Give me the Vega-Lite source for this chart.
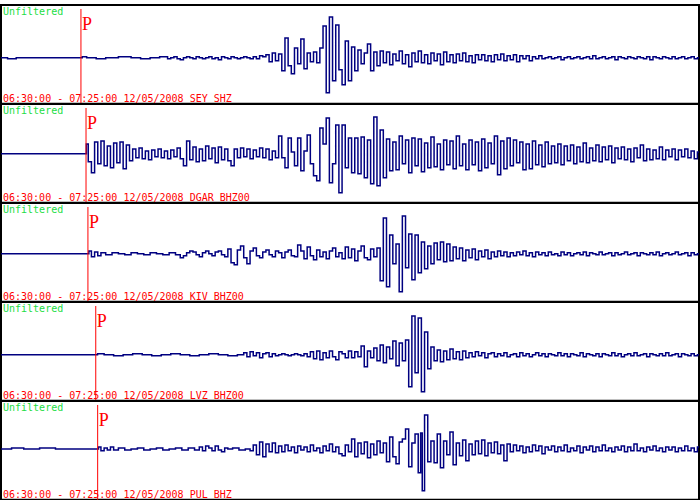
{
  "$schema": "https://vega.github.io/schema/vega-lite/v6.json",
  "padding": {"left": -3, "top": 4, "right": 1, "bottom": 1},
  "background": "white",
  "spacing": 0,
  "bounds": "flush",
  "config": {"view": {"stroke": "black", "strokeWidth": 2}},
  "datasets": {
    "SEY": [{"t":0,"a":0},{"t":62,"a":-1},{"t":82,"a":0},{"t":378,"a":0},{"t":390,"a":1},{"t":420,"a":0},{"t":480,"a":-1},{"t":510,"a":0},{"t":600,"a":1},{"t":630,"a":0},{"t":690,"a":-1},{"t":720,"a":0},
      {"t":780,"a":1},{"t":795,"a":-1},{"t":810,"a":0},{"t":825,"a":1},{"t":840,"a":-1},{"t":855,"a":-2},{"t":870,"a":0},{"t":885,"a":1},{"t":900,"a":0},{"t":915,"a":-1},{"t":930,"a":1},{"t":945,"a":0},{"t":960,"a":-1},{"t":975,"a":0},{"t":990,"a":1},{"t":1005,"a":-1},{"t":1020,"a":0},{"t":1035,"a":-2},{"t":1050,"a":1},{"t":1065,"a":0},{"t":1080,"a":-1},{"t":1095,"a":1},{"t":1110,"a":0},{"t":1125,"a":-1},{"t":1140,"a":0},{"t":1155,"a":1},{"t":1170,"a":0},{"t":1185,"a":-1},{"t":1200,"a":1},
      {"t":1215,"a":-1},{"t":1230,"a":2},{"t":1245,"a":1},{"t":1260,"a":3},{"t":1275,"a":-4},{"t":1290,"a":5},{"t":1305,"a":-3},{"t":1320,"a":4},
      {"t":1335,"a":-13},{"t":1350,"a":20},{"t":1365,"a":-8},{"t":1380,"a":-16},{"t":1395,"a":10},{"t":1410,"a":-6},{"t":1425,"a":19},{"t":1440,"a":-11},{"t":1455,"a":5},
      {"t":1470,"a":-4},{"t":1485,"a":6},{"t":1500,"a":-5},{"t":1515,"a":10},
      {"t":1530,"a":32},{"t":1545,"a":-35},{"t":1560,"a":41},{"t":1575,"a":-23},{"t":1590,"a":33},{"t":1605,"a":-12},{"t":1620,"a":-27},{"t":1635,"a":17},{"t":1650,"a":-23},{"t":1665,"a":11},{"t":1680,"a":-13},{"t":1695,"a":8},{"t":1710,"a":-6},{"t":1725,"a":5},{"t":1740,"a":14},{"t":1755,"a":-13},{"t":1770,"a":6},{"t":1785,"a":-8},{"t":1800,"a":7},
      {"t":1815,"a":-5},{"t":1830,"a":6},{"t":1845,"a":-7},{"t":1860,"a":4},{"t":1875,"a":-3},{"t":1890,"a":7},{"t":1905,"a":-6},{"t":1920,"a":3},{"t":1935,"a":-9},{"t":1950,"a":5},{"t":1965,"a":-4},{"t":1980,"a":7},{"t":1995,"a":-5},{"t":2010,"a":3},{"t":2025,"a":-6},{"t":2040,"a":5},{"t":2055,"a":-3},{"t":2070,"a":4},{"t":2085,"a":-7},{"t":2100,"a":6},{"t":2115,"a":-4},{"t":2130,"a":3},{"t":2145,"a":-5},{"t":2160,"a":4},{"t":2175,"a":-3},{"t":2190,"a":5},{"t":2205,"a":-4},{"t":2220,"a":2},{"t":2235,"a":-5},{"t":2250,"a":3},{"t":2265,"a":-2},
      {"t":2280,"a":3},{"t":2295,"a":-3},{"t":2310,"a":2},{"t":2325,"a":-4},{"t":2340,"a":3},{"t":2355,"a":-2},{"t":2370,"a":4},{"t":2385,"a":-3},{"t":2400,"a":2},{"t":2415,"a":-2},{"t":2430,"a":3},{"t":2445,"a":-4},{"t":2460,"a":2},{"t":2475,"a":-1},{"t":2490,"a":2},{"t":2505,"a":-3},{"t":2520,"a":1},{"t":2535,"a":-1},{"t":2550,"a":2},
      {"t":2565,"a":-1},{"t":2580,"a":0},{"t":2595,"a":1},{"t":2610,"a":-1},{"t":2625,"a":0},{"t":2640,"a":1},{"t":2655,"a":-2},{"t":2670,"a":0},{"t":2685,"a":1},{"t":2700,"a":-1},{"t":2715,"a":0},{"t":2730,"a":1},{"t":2745,"a":-1},{"t":2760,"a":0},{"t":2775,"a":1},{"t":2790,"a":-1},{"t":2805,"a":2},{"t":2820,"a":-1},{"t":2835,"a":0},{"t":2850,"a":1},{"t":2865,"a":-1},{"t":2880,"a":0},{"t":2895,"a":1},{"t":2910,"a":-2},{"t":2925,"a":1},{"t":2940,"a":0},{"t":2955,"a":-1},{"t":2970,"a":1},{"t":2985,"a":0},{"t":3000,"a":-1},{"t":3015,"a":1},{"t":3030,"a":0},{"t":3045,"a":-1},{"t":3060,"a":1},{"t":3075,"a":-2},{"t":3090,"a":1},{"t":3105,"a":0},{"t":3120,"a":-1},{"t":3135,"a":1},{"t":3150,"a":0},{"t":3165,"a":-1},{"t":3180,"a":1},{"t":3195,"a":-1},{"t":3210,"a":0},{"t":3225,"a":1},{"t":3240,"a":-1},{"t":3255,"a":0},{"t":3270,"a":1},{"t":3285,"a":-1},{"t":3300,"a":0}],
    "DGAR": [{"t":0,"a":0},{"t":402,"a":0},
      {"t":405,"a":10},{"t":420,"a":-8},{"t":435,"a":-19},{"t":450,"a":12},{"t":465,"a":-10},{"t":480,"a":13},{"t":495,"a":-12},{"t":510,"a":8},{"t":525,"a":-14},{"t":540,"a":11},{"t":555,"a":-9},{"t":570,"a":12},{"t":585,"a":-15},{"t":600,"a":9},{"t":615,"a":-7},
      {"t":630,"a":5},{"t":645,"a":-4},{"t":660,"a":6},{"t":675,"a":-5},{"t":690,"a":3},{"t":705,"a":-6},{"t":720,"a":4},{"t":735,"a":-3},{"t":750,"a":5},{"t":765,"a":-4},{"t":780,"a":3},{"t":795,"a":-5},{"t":810,"a":4},{"t":825,"a":-3},
      {"t":840,"a":6},{"t":855,"a":-5},{"t":870,"a":-12},{"t":885,"a":13},{"t":900,"a":-6},{"t":915,"a":7},{"t":930,"a":-8},{"t":945,"a":5},{"t":960,"a":-7},{"t":975,"a":8},{"t":990,"a":-5},{"t":1005,"a":6},{"t":1020,"a":-9},{"t":1035,"a":7},{"t":1050,"a":-6},{"t":1065,"a":5},{"t":1080,"a":-7},{"t":1095,"a":-12},
      {"t":1110,"a":5},{"t":1125,"a":-4},{"t":1140,"a":6},{"t":1155,"a":-3},{"t":1170,"a":5},{"t":1185,"a":-5},{"t":1200,"a":4},{"t":1215,"a":-3},{"t":1230,"a":6},{"t":1245,"a":-4},{"t":1260,"a":5},{"t":1275,"a":-6},{"t":1290,"a":3},{"t":1305,"a":-4},
      {"t":1320,"a":18},{"t":1335,"a":-4},{"t":1350,"a":-14},{"t":1365,"a":16},{"t":1380,"a":2},{"t":1395,"a":-12},{"t":1410,"a":16},{"t":1425,"a":-17},{"t":1440,"a":3},{"t":1455,"a":19},{"t":1470,"a":-10},{"t":1485,"a":-22},{"t":1500,"a":-27},{"t":1515,"a":26},{"t":1530,"a":10},{"t":1545,"a":36},{"t":1560,"a":-29},{"t":1575,"a":-10},{"t":1590,"a":29},{"t":1605,"a":-39},{"t":1620,"a":29},{"t":1635,"a":-14},{"t":1650,"a":16},
      {"t":1665,"a":-19},{"t":1680,"a":16},{"t":1695,"a":-20},{"t":1710,"a":17},{"t":1725,"a":-24},{"t":1740,"a":14},{"t":1755,"a":-30},{"t":1770,"a":37},{"t":1785,"a":-32},{"t":1800,"a":24},{"t":1815,"a":-24},
      {"t":1830,"a":15},{"t":1845,"a":-17},{"t":1860,"a":12},{"t":1875,"a":-16},{"t":1890,"a":18},{"t":1905,"a":-10},{"t":1920,"a":14},{"t":1935,"a":-19},{"t":1950,"a":16},{"t":1965,"a":-12},{"t":1980,"a":15},{"t":1995,"a":-18},{"t":2010,"a":11},{"t":2025,"a":-14},{"t":2040,"a":17},{"t":2055,"a":-13},{"t":2070,"a":10},{"t":2085,"a":-16},{"t":2100,"a":14},{"t":2115,"a":-11},{"t":2130,"a":13},
      {"t":2145,"a":-15},{"t":2160,"a":18},{"t":2175,"a":-12},{"t":2190,"a":10},{"t":2205,"a":-16},{"t":2220,"a":14},{"t":2235,"a":-11},{"t":2250,"a":12},{"t":2265,"a":-17},{"t":2280,"a":15},{"t":2295,"a":-14},{"t":2310,"a":11},{"t":2325,"a":-10},{"t":2340,"a":18},{"t":2355,"a":-21},{"t":2370,"a":13},{"t":2385,"a":-15},{"t":2400,"a":16},{"t":2415,"a":-12},{"t":2430,"a":14},{"t":2445,"a":-9},{"t":2460,"a":12},{"t":2475,"a":-16},{"t":2490,"a":10},{"t":2505,"a":-15},{"t":2520,"a":13},{"t":2535,"a":-11},{"t":2550,"a":9},{"t":2565,"a":-13},{"t":2580,"a":12},{"t":2595,"a":-10},{"t":2610,"a":8},
      {"t":2625,"a":-9},{"t":2640,"a":10},{"t":2655,"a":-11},{"t":2670,"a":8},{"t":2685,"a":-7},{"t":2700,"a":9},{"t":2715,"a":-10},{"t":2730,"a":7},{"t":2745,"a":-8},{"t":2760,"a":11},{"t":2775,"a":-9},{"t":2790,"a":6},{"t":2805,"a":-7},{"t":2820,"a":9},{"t":2835,"a":-8},{"t":2850,"a":7},{"t":2865,"a":-6},{"t":2880,"a":8},{"t":2895,"a":-9},{"t":2910,"a":6},{"t":2925,"a":-5},
      {"t":2940,"a":7},{"t":2955,"a":-6},{"t":2970,"a":5},{"t":2985,"a":-8},{"t":3000,"a":6},{"t":3015,"a":-4},{"t":3030,"a":9},{"t":3045,"a":-7},{"t":3060,"a":5},{"t":3075,"a":-6},{"t":3090,"a":4},{"t":3105,"a":-5},{"t":3120,"a":7},{"t":3135,"a":-6},{"t":3150,"a":4},{"t":3165,"a":-3},{"t":3180,"a":5},{"t":3195,"a":-6},{"t":3210,"a":4},{"t":3225,"a":-3},{"t":3240,"a":5},{"t":3255,"a":-4},{"t":3270,"a":3},{"t":3285,"a":-5},{"t":3300,"a":2}],
    "KIV": [{"t":0,"a":0},{"t":411,"a":0},{"t":420,"a":3},{"t":435,"a":-3},{"t":450,"a":2},{"t":465,"a":-2},{"t":480,"a":1},{"t":510,"a":-1},{"t":540,"a":1},{"t":570,"a":0},{"t":600,"a":-1},{"t":630,"a":1},{"t":660,"a":0},{"t":690,"a":-1},{"t":720,"a":1},{"t":750,"a":0},{"t":780,"a":-1},{"t":810,"a":1},{"t":840,"a":-1},
      {"t":855,"a":-4},{"t":870,"a":-2},{"t":885,"a":1},{"t":900,"a":3},{"t":915,"a":2},{"t":930,"a":-1},{"t":945,"a":-3},{"t":960,"a":1},{"t":975,"a":3},{"t":990,"a":0},{"t":1005,"a":-2},{"t":1020,"a":2},{"t":1035,"a":3},{"t":1050,"a":-1},{"t":1065,"a":-3},
      {"t":1080,"a":5},{"t":1095,"a":-9},{"t":1110,"a":-11},{"t":1125,"a":4},{"t":1140,"a":8},{"t":1155,"a":-4},{"t":1170,"a":-10},{"t":1185,"a":3},{"t":1200,"a":6},
      {"t":1215,"a":-2},{"t":1230,"a":-4},{"t":1245,"a":2},{"t":1260,"a":4},{"t":1275,"a":-1},{"t":1290,"a":-3},{"t":1305,"a":3},{"t":1320,"a":1},{"t":1335,"a":-4},{"t":1350,"a":2},{"t":1365,"a":4},{"t":1380,"a":-2},{"t":1395,"a":-3},
      {"t":1410,"a":9},{"t":1425,"a":3},{"t":1440,"a":-5},{"t":1455,"a":7},{"t":1470,"a":-2},{"t":1485,"a":-6},{"t":1500,"a":4},{"t":1515,"a":-3},{"t":1530,"a":2},{"t":1545,"a":-5},{"t":1560,"a":3},{"t":1575,"a":6},{"t":1590,"a":-3},{"t":1605,"a":1},{"t":1620,"a":-5},{"t":1635,"a":7},{"t":1650,"a":-4},
      {"t":1665,"a":5},{"t":1680,"a":-7},{"t":1695,"a":3},{"t":1710,"a":8},{"t":1725,"a":-4},{"t":1740,"a":-6},{"t":1755,"a":5},{"t":1770,"a":-3},
      {"t":1785,"a":6},{"t":1800,"a":-27},{"t":1815,"a":36},{"t":1830,"a":-33},{"t":1845,"a":19},{"t":1860,"a":-10},{"t":1875,"a":10},{"t":1890,"a":-38},{"t":1905,"a":38},{"t":1920,"a":-14},{"t":1935,"a":20},{"t":1950,"a":-26},{"t":1965,"a":19},{"t":1980,"a":-19},
      {"t":1995,"a":12},{"t":2010,"a":-15},{"t":2025,"a":8},{"t":2040,"a":-10},{"t":2055,"a":11},{"t":2070,"a":-6},{"t":2085,"a":12},{"t":2100,"a":-8},{"t":2115,"a":10},{"t":2130,"a":-7},
      {"t":2145,"a":7},{"t":2160,"a":-5},{"t":2175,"a":6},{"t":2190,"a":-7},{"t":2205,"a":4},{"t":2220,"a":-4},{"t":2235,"a":5},{"t":2250,"a":-6},{"t":2265,"a":3},{"t":2280,"a":-3},{"t":2295,"a":4},{"t":2310,"a":-5},{"t":2325,"a":2},{"t":2340,"a":-3},{"t":2355,"a":3},{"t":2370,"a":-2},
      {"t":2385,"a":2},{"t":2400,"a":-3},{"t":2415,"a":1},{"t":2430,"a":-2},{"t":2445,"a":2},{"t":2460,"a":-1},{"t":2475,"a":3},{"t":2490,"a":-2},{"t":2505,"a":1},{"t":2520,"a":-3},{"t":2535,"a":2},{"t":2550,"a":-1},{"t":2565,"a":1},{"t":2580,"a":-2},{"t":2595,"a":2},{"t":2610,"a":-1},{"t":2625,"a":0},{"t":2640,"a":-2},{"t":2655,"a":2},{"t":2670,"a":-1},{"t":2685,"a":1},{"t":2700,"a":-2},{"t":2715,"a":0},{"t":2730,"a":1},{"t":2745,"a":-1},{"t":2760,"a":2},{"t":2775,"a":-2},{"t":2790,"a":1},{"t":2805,"a":0},{"t":2820,"a":-1},{"t":2835,"a":2},{"t":2850,"a":-1},{"t":2865,"a":0},{"t":2880,"a":1},{"t":2895,"a":-2},{"t":2910,"a":1},{"t":2925,"a":-1},{"t":2940,"a":0},{"t":2955,"a":2},{"t":2970,"a":-1},{"t":2985,"a":0},{"t":3000,"a":1},{"t":3015,"a":-2},{"t":3030,"a":1},{"t":3045,"a":0},{"t":3060,"a":-1},{"t":3075,"a":1},{"t":3090,"a":-1},{"t":3105,"a":2},{"t":3120,"a":-2},{"t":3135,"a":0},{"t":3150,"a":1},{"t":3165,"a":-1},{"t":3180,"a":0},{"t":3195,"a":2},{"t":3210,"a":-1},{"t":3225,"a":0},{"t":3240,"a":1},{"t":3255,"a":-2},{"t":3270,"a":1},{"t":3285,"a":-1},{"t":3300,"a":0}],
    "LVZ": [{"t":0,"a":0},{"t":448,"a":0},{"t":465,"a":1},{"t":510,"a":0},{"t":555,"a":-1},{"t":600,"a":0},{"t":645,"a":1},{"t":690,"a":0},{"t":735,"a":-1},{"t":780,"a":0},{"t":825,"a":1},{"t":870,"a":0},{"t":915,"a":-1},{"t":960,"a":0},{"t":1005,"a":1},{"t":1050,"a":0},{"t":1095,"a":-1},{"t":1140,"a":0},
      {"t":1155,"a":2},{"t":1170,"a":-2},{"t":1185,"a":3},{"t":1200,"a":-1},{"t":1215,"a":2},{"t":1230,"a":-3},{"t":1245,"a":1},{"t":1260,"a":2},{"t":1275,"a":-2},{"t":1290,"a":1},{"t":1305,"a":-1},{"t":1320,"a":0},
      {"t":1335,"a":1},{"t":1350,"a":0},{"t":1365,"a":-1},{"t":1380,"a":0},{"t":1395,"a":1},{"t":1410,"a":0},{"t":1425,"a":-1},{"t":1440,"a":1},
      {"t":1455,"a":-2},{"t":1470,"a":3},{"t":1485,"a":-4},{"t":1500,"a":4},{"t":1515,"a":-5},{"t":1530,"a":2},{"t":1545,"a":-3},{"t":1560,"a":4},{"t":1575,"a":-2},{"t":1590,"a":-5},{"t":1605,"a":3},{"t":1620,"a":1},{"t":1635,"a":-3},{"t":1650,"a":4},
      {"t":1665,"a":-3},{"t":1680,"a":3},{"t":1695,"a":-2},{"t":1710,"a":9},{"t":1725,"a":-12},{"t":1740,"a":4},{"t":1755,"a":-3},
      {"t":1770,"a":7},{"t":1785,"a":-6},{"t":1800,"a":10},{"t":1815,"a":-8},{"t":1830,"a":8},{"t":1845,"a":-4},{"t":1860,"a":14},{"t":1875,"a":-11},{"t":1890,"a":12},{"t":1905,"a":-6},
      {"t":1920,"a":15},{"t":1935,"a":-32},{"t":1950,"a":39},{"t":1965,"a":-18},{"t":1980,"a":37},{"t":1995,"a":-37},{"t":2010,"a":23},{"t":2025,"a":-14},
      {"t":2040,"a":8},{"t":2055,"a":-6},{"t":2070,"a":5},{"t":2085,"a":-7},{"t":2100,"a":4},{"t":2115,"a":-5},{"t":2130,"a":6},{"t":2145,"a":-4},{"t":2160,"a":3},{"t":2175,"a":-5},{"t":2190,"a":4},{"t":2205,"a":-3},{"t":2220,"a":2},
      {"t":2235,"a":-2},{"t":2250,"a":3},{"t":2265,"a":-1},{"t":2280,"a":2},{"t":2295,"a":-3},{"t":2310,"a":1},{"t":2325,"a":2},{"t":2340,"a":-2},{"t":2355,"a":1},{"t":2370,"a":-1},{"t":2385,"a":2},{"t":2400,"a":-2},{"t":2415,"a":0},{"t":2430,"a":1},{"t":2445,"a":-2},{"t":2460,"a":2},{"t":2475,"a":-1},{"t":2490,"a":1},{"t":2505,"a":-2},{"t":2520,"a":0},{"t":2535,"a":2},{"t":2550,"a":-1},{"t":2565,"a":1},{"t":2580,"a":-2},{"t":2595,"a":1},{"t":2610,"a":0},{"t":2625,"a":-1},{"t":2640,"a":2},{"t":2655,"a":-1},{"t":2670,"a":1},{"t":2685,"a":-2},{"t":2700,"a":1},{"t":2715,"a":0},{"t":2730,"a":-1},{"t":2745,"a":2},{"t":2760,"a":-2},{"t":2775,"a":1},{"t":2790,"a":0},{"t":2805,"a":-1},{"t":2820,"a":1},{"t":2835,"a":-2},{"t":2850,"a":1},{"t":2865,"a":0},{"t":2880,"a":-1},{"t":2895,"a":2},{"t":2910,"a":-1},{"t":2925,"a":1},{"t":2940,"a":-2},{"t":2955,"a":0},{"t":2970,"a":1},{"t":2985,"a":-1},{"t":3000,"a":2},{"t":3015,"a":-1},{"t":3030,"a":0},{"t":3045,"a":1},{"t":3060,"a":-2},{"t":3075,"a":1},{"t":3090,"a":0},{"t":3105,"a":-1},{"t":3120,"a":1},{"t":3135,"a":-1},{"t":3150,"a":2},{"t":3165,"a":-1},{"t":3180,"a":0},{"t":3195,"a":1},{"t":3210,"a":-2},{"t":3225,"a":1},{"t":3240,"a":0},{"t":3255,"a":-1},{"t":3270,"a":1},{"t":3285,"a":-1},{"t":3300,"a":0}],
    "PUL": [{"t":0,"a":0},{"t":100,"a":1},{"t":115,"a":0},{"t":250,"a":1},{"t":265,"a":0},{"t":457,"a":0},
      {"t":465,"a":2},{"t":480,"a":-2},{"t":495,"a":1},{"t":510,"a":-1},{"t":525,"a":2},{"t":540,"a":-1},{"t":570,"a":1},{"t":600,"a":-1},{"t":630,"a":0},{"t":660,"a":1},{"t":690,"a":-1},{"t":720,"a":0},{"t":750,"a":1},{"t":780,"a":-1},{"t":810,"a":0},{"t":840,"a":1},{"t":870,"a":-1},{"t":900,"a":1},{"t":930,"a":-1},
      {"t":945,"a":2},{"t":960,"a":-2},{"t":975,"a":3},{"t":990,"a":1},{"t":1005,"a":-2},{"t":1020,"a":3},{"t":1035,"a":-1},{"t":1050,"a":-3},{"t":1065,"a":1},
      {"t":1080,"a":0},{"t":1110,"a":1},{"t":1140,"a":-1},{"t":1170,"a":0},
      {"t":1185,"a":-2},{"t":1200,"a":4},{"t":1215,"a":-6},{"t":1230,"a":7},{"t":1245,"a":-8},{"t":1260,"a":5},{"t":1275,"a":-3},{"t":1290,"a":6},{"t":1305,"a":-4},
      {"t":1320,"a":3},{"t":1335,"a":-3},{"t":1350,"a":4},{"t":1365,"a":-2},{"t":1380,"a":2},{"t":1395,"a":-4},{"t":1410,"a":3},{"t":1425,"a":-1},{"t":1440,"a":2},{"t":1455,"a":-3},{"t":1470,"a":4},{"t":1485,"a":-2},{"t":1500,"a":1},{"t":1515,"a":-4},{"t":1530,"a":3},{"t":1545,"a":-2},{"t":1560,"a":5},{"t":1575,"a":-3},{"t":1590,"a":2},{"t":1605,"a":-5},{"t":1620,"a":-7},{"t":1635,"a":4},{"t":1650,"a":-3},
      {"t":1665,"a":10},{"t":1680,"a":-8},{"t":1695,"a":6},{"t":1710,"a":-5},{"t":1725,"a":7},{"t":1740,"a":-9},{"t":1755,"a":5},{"t":1770,"a":-6},{"t":1785,"a":8},{"t":1800,"a":-4},{"t":1815,"a":6},{"t":1830,"a":-13},{"t":1845,"a":12},{"t":1860,"a":-8},{"t":1875,"a":-15},{"t":1890,"a":7},{"t":1905,"a":10},
      {"t":1920,"a":20},{"t":1935,"a":-18},{"t":1950,"a":6},{"t":1965,"a":15},{"t":1980,"a":-24},{"t":1988,"a":16},{"t":1995,"a":-42},{"t":2010,"a":34},{"t":2025,"a":-13},{"t":2040,"a":8},{"t":2055,"a":-14},{"t":2070,"a":15},{"t":2085,"a":-19},
      {"t":2100,"a":8},{"t":2115,"a":-6},{"t":2130,"a":17},{"t":2145,"a":-16},{"t":2160,"a":6},{"t":2175,"a":-7},{"t":2190,"a":9},{"t":2205,"a":-12},{"t":2220,"a":5},{"t":2235,"a":-6},{"t":2250,"a":8},{"t":2265,"a":-5},{"t":2280,"a":9},{"t":2295,"a":-7},{"t":2310,"a":6},{"t":2325,"a":-4},{"t":2340,"a":7},{"t":2355,"a":-5},{"t":2370,"a":4},{"t":2385,"a":-12},{"t":2400,"a":5},
      {"t":2415,"a":-3},{"t":2430,"a":4},{"t":2445,"a":-2},{"t":2460,"a":3},{"t":2475,"a":-4},{"t":2490,"a":2},{"t":2505,"a":-3},{"t":2520,"a":4},{"t":2535,"a":-2},{"t":2550,"a":3},{"t":2565,"a":-5},{"t":2580,"a":2},{"t":2595,"a":-1},{"t":2610,"a":3},{"t":2625,"a":-3},{"t":2640,"a":2},{"t":2655,"a":-2},{"t":2670,"a":4},{"t":2685,"a":-3},{"t":2700,"a":1},{"t":2715,"a":-2},{"t":2730,"a":3},{"t":2745,"a":-4},{"t":2760,"a":2},{"t":2775,"a":-1},{"t":2790,"a":3},{"t":2805,"a":-3},{"t":2820,"a":2},{"t":2835,"a":-2},{"t":2850,"a":4},{"t":2865,"a":-2},{"t":2880,"a":1},{"t":2895,"a":-3},{"t":2910,"a":2},{"t":2925,"a":-1},{"t":2940,"a":3},{"t":2955,"a":-3},{"t":2970,"a":2},{"t":2985,"a":-2},{"t":3000,"a":5},{"t":3015,"a":-2},{"t":3030,"a":1},{"t":3045,"a":-3},{"t":3060,"a":2},{"t":3075,"a":-1},{"t":3090,"a":3},{"t":3105,"a":-2},{"t":3120,"a":1},{"t":3135,"a":-3},{"t":3150,"a":2},{"t":3165,"a":-1},{"t":3180,"a":2},{"t":3195,"a":-3},{"t":3210,"a":1},{"t":3225,"a":-2},{"t":3240,"a":3},{"t":3255,"a":-2},{"t":3270,"a":1},{"t":3285,"a":-3},{"t":3300,"a":2}]
  },
  "vconcat": [
    {
      "width": 698, "height": 98.75,
      "layer": [
        {"data": {"name": "SEY"}, "mark": {"type": "line", "interpolate": "step", "color": "#000080", "strokeWidth": 1.5},
         "encoding": {"x": {"field": "t", "type": "quantitative", "scale": {"domain": [0, 3300], "nice": false, "zero": false}, "axis": null},
                      "y": {"field": "a", "type": "quantitative", "scale": {"domain": [-46, 53], "nice": false, "zero": false}, "axis": null}}},
        {"data": {"values": [{"t": 378}]}, "mark": {"type": "rule", "color": "#ff0000", "strokeWidth": 1},
         "encoding": {"x": {"field": "t", "type": "quantitative"}, "y": {"datum": 49}, "y2": {"datum": -46}}},
        {"data": {"values": [{"t": 378, "label": "P"}]}, "mark": {"type": "text", "font": "Liberation Serif", "fontSize": 18, "color": "#ff0000", "align": "left", "baseline": "alphabetic", "dx": 1},
         "encoding": {"x": {"field": "t", "type": "quantitative"}, "y": {"datum": 28}, "text": {"field": "label"}}},
        {"data": {"values": [{"label": "Unfiltered"}]}, "mark": {"type": "text", "font": "DejaVu Sans Mono", "fontSize": 10, "color": "#22dd44", "align": "left", "baseline": "alphabetic", "dx": 2, "dy": 10},
         "encoding": {"x": {"datum": 0}, "y": {"datum": 53}, "text": {"field": "label"}}},
        {"data": {"values": [{"label": "06:30:00 - 07:25:00 12/05/2008 SEY SHZ"}]}, "mark": {"type": "text", "font": "DejaVu Sans Mono", "fontSize": 10, "color": "#ff0000", "align": "left", "baseline": "alphabetic", "dx": 2, "dy": -2},
         "encoding": {"x": {"datum": 0}, "y": {"datum": -46}, "text": {"field": "label"}}}
      ]
    },
    {
      "width": 698, "height": 98.75,
      "layer": [
        {"data": {"name": "DGAR"}, "mark": {"type": "line", "interpolate": "step", "color": "#000080", "strokeWidth": 1.5},
         "encoding": {"x": {"field": "t", "type": "quantitative", "scale": {"domain": [0, 3300], "nice": false, "zero": false}, "axis": null},
                      "y": {"field": "a", "type": "quantitative", "scale": {"domain": [-49, 50], "nice": false, "zero": false}, "axis": null}}},
        {"data": {"values": [{"t": 402}]}, "mark": {"type": "rule", "color": "#ff0000", "strokeWidth": 1},
         "encoding": {"x": {"field": "t", "type": "quantitative"}, "y": {"datum": 46}, "y2": {"datum": -49}}},
        {"data": {"values": [{"t": 402, "label": "P"}]}, "mark": {"type": "text", "font": "Liberation Serif", "fontSize": 18, "color": "#ff0000", "align": "left", "baseline": "alphabetic", "dx": 1},
         "encoding": {"x": {"field": "t", "type": "quantitative"}, "y": {"datum": 25}, "text": {"field": "label"}}},
        {"data": {"values": [{"label": "Unfiltered"}]}, "mark": {"type": "text", "font": "DejaVu Sans Mono", "fontSize": 10, "color": "#22dd44", "align": "left", "baseline": "alphabetic", "dx": 2, "dy": 10},
         "encoding": {"x": {"datum": 0}, "y": {"datum": 50}, "text": {"field": "label"}}},
        {"data": {"values": [{"label": "06:30:00 - 07:25:00 12/05/2008 DGAR BHZ00"}]}, "mark": {"type": "text", "font": "DejaVu Sans Mono", "fontSize": 10, "color": "#ff0000", "align": "left", "baseline": "alphabetic", "dx": 2, "dy": -2},
         "encoding": {"x": {"datum": 0}, "y": {"datum": -49}, "text": {"field": "label"}}}
      ]
    },
    {
      "width": 698, "height": 98.75,
      "layer": [
        {"data": {"name": "KIV"}, "mark": {"type": "line", "interpolate": "step", "color": "#000080", "strokeWidth": 1.5},
         "encoding": {"x": {"field": "t", "type": "quantitative", "scale": {"domain": [0, 3300], "nice": false, "zero": false}, "axis": null},
                      "y": {"field": "a", "type": "quantitative", "scale": {"domain": [-48, 51], "nice": false, "zero": false}, "axis": null}}},
        {"data": {"values": [{"t": 411}]}, "mark": {"type": "rule", "color": "#ff0000", "strokeWidth": 1},
         "encoding": {"x": {"field": "t", "type": "quantitative"}, "y": {"datum": 47}, "y2": {"datum": -48}}},
        {"data": {"values": [{"t": 411, "label": "P"}]}, "mark": {"type": "text", "font": "Liberation Serif", "fontSize": 18, "color": "#ff0000", "align": "left", "baseline": "alphabetic", "dx": 1},
         "encoding": {"x": {"field": "t", "type": "quantitative"}, "y": {"datum": 26}, "text": {"field": "label"}}},
        {"data": {"values": [{"label": "Unfiltered"}]}, "mark": {"type": "text", "font": "DejaVu Sans Mono", "fontSize": 10, "color": "#22dd44", "align": "left", "baseline": "alphabetic", "dx": 2, "dy": 10},
         "encoding": {"x": {"datum": 0}, "y": {"datum": 51}, "text": {"field": "label"}}},
        {"data": {"values": [{"label": "06:30:00 - 07:25:00 12/05/2008 KIV BHZ00"}]}, "mark": {"type": "text", "font": "DejaVu Sans Mono", "fontSize": 10, "color": "#ff0000", "align": "left", "baseline": "alphabetic", "dx": 2, "dy": -2},
         "encoding": {"x": {"datum": 0}, "y": {"datum": -48}, "text": {"field": "label"}}}
      ]
    },
    {
      "width": 698, "height": 98.75,
      "layer": [
        {"data": {"name": "LVZ"}, "mark": {"type": "line", "interpolate": "step", "color": "#000080", "strokeWidth": 1.5},
         "encoding": {"x": {"field": "t", "type": "quantitative", "scale": {"domain": [0, 3300], "nice": false, "zero": false}, "axis": null},
                      "y": {"field": "a", "type": "quantitative", "scale": {"domain": [-46, 53], "nice": false, "zero": false}, "axis": null}}},
        {"data": {"values": [{"t": 448}]}, "mark": {"type": "rule", "color": "#ff0000", "strokeWidth": 1},
         "encoding": {"x": {"field": "t", "type": "quantitative"}, "y": {"datum": 49}, "y2": {"datum": -46}}},
        {"data": {"values": [{"t": 448, "label": "P"}]}, "mark": {"type": "text", "font": "Liberation Serif", "fontSize": 18, "color": "#ff0000", "align": "left", "baseline": "alphabetic", "dx": 1},
         "encoding": {"x": {"field": "t", "type": "quantitative"}, "y": {"datum": 28}, "text": {"field": "label"}}},
        {"data": {"values": [{"label": "Unfiltered"}]}, "mark": {"type": "text", "font": "DejaVu Sans Mono", "fontSize": 10, "color": "#22dd44", "align": "left", "baseline": "alphabetic", "dx": 2, "dy": 10},
         "encoding": {"x": {"datum": 0}, "y": {"datum": 53}, "text": {"field": "label"}}},
        {"data": {"values": [{"label": "06:30:00 - 07:25:00 12/05/2008 LVZ BHZ00"}]}, "mark": {"type": "text", "font": "DejaVu Sans Mono", "fontSize": 10, "color": "#ff0000", "align": "left", "baseline": "alphabetic", "dx": 2, "dy": -2},
         "encoding": {"x": {"datum": 0}, "y": {"datum": -46}, "text": {"field": "label"}}}
      ]
    },
    {
      "width": 698, "height": 98.75,
      "layer": [
        {"data": {"name": "PUL"}, "mark": {"type": "line", "interpolate": "step", "color": "#000080", "strokeWidth": 1.5},
         "encoding": {"x": {"field": "t", "type": "quantitative", "scale": {"domain": [0, 3300], "nice": false, "zero": false}, "axis": null},
                      "y": {"field": "a", "type": "quantitative", "scale": {"domain": [-51, 48], "nice": false, "zero": false}, "axis": null}}},
        {"data": {"values": [{"t": 457}]}, "mark": {"type": "rule", "color": "#ff0000", "strokeWidth": 1},
         "encoding": {"x": {"field": "t", "type": "quantitative"}, "y": {"datum": 44}, "y2": {"datum": -51}}},
        {"data": {"values": [{"t": 457, "label": "P"}]}, "mark": {"type": "text", "font": "Liberation Serif", "fontSize": 18, "color": "#ff0000", "align": "left", "baseline": "alphabetic", "dx": 1},
         "encoding": {"x": {"field": "t", "type": "quantitative"}, "y": {"datum": 23}, "text": {"field": "label"}}},
        {"data": {"values": [{"label": "Unfiltered"}]}, "mark": {"type": "text", "font": "DejaVu Sans Mono", "fontSize": 10, "color": "#22dd44", "align": "left", "baseline": "alphabetic", "dx": 2, "dy": 10},
         "encoding": {"x": {"datum": 0}, "y": {"datum": 48}, "text": {"field": "label"}}},
        {"data": {"values": [{"label": "06:30:00 - 07:25:00 12/05/2008 PUL BHZ"}]}, "mark": {"type": "text", "font": "DejaVu Sans Mono", "fontSize": 10, "color": "#ff0000", "align": "left", "baseline": "alphabetic", "dx": 2, "dy": -2},
         "encoding": {"x": {"datum": 0}, "y": {"datum": -51}, "text": {"field": "label"}}}
      ]
    }
  ]
}
